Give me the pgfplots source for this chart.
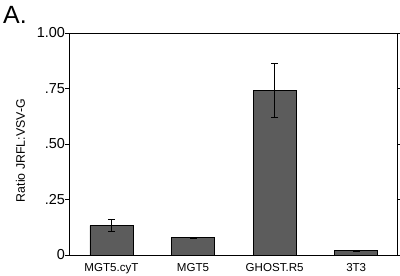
\documentclass[border=0pt]{standalone}
\usepackage{pgfplots}
\pgfplotsset{compat=1.18}
\usepackage{fontspec}
\setmainfont{Liberation Sans}
\definecolor{barfill}{RGB}{92,92,92}
\begin{document}
\begin{tikzpicture}
\useasboundingbox (-69bp,-21bp) rectangle (331bp,255bp);
\begin{axis}[
  at={(0,0)}, anchor=south west,
  scale only axis,
  width=328bp, height=222bp,
  xmin=-0.52, xmax=3.5,
  ymin=0, ymax=1,
  xtick={0,1,2,3},
  xticklabels={MGT5.cyT,MGT5,GHOST.R5,3T3},
  ytick={0,0.25,0.5,0.75,1},
  yticklabels={0,.25,.50,.75,1.00},
  major x tick style={draw=none},
  ytick align=outside,
  major tick length=4bp,
  tick style={black, line width=0.8pt},
  axis line style={line width=0.9pt},
  yticklabel style={font=\fontsize{14.5}{16}\selectfont, xshift=3.5bp},
  xticklabel style={font=\fontsize{11.6}{13}\selectfont, yshift=-0.5bp},
  ylabel={Ratio JRFL:VSV-G},
  ylabel style={font=\fontsize{12.4}{14}\selectfont, at={(ticklabel cs:0.47)}, yshift=5bp},
  ybar, bar width=43bp,
]
\addplot[fill=barfill, draw=black, line width=0.7pt,
  error bars/.cd, y dir=both, y explicit,
  error bar style={black, line width=0.9pt},
  error mark options={rotate=90, mark size=3.5bp, line width=0.9pt, black}]
coordinates {
  (0,0.132) +- (0,0.026)
  (1,0.078) +- (0,0.003)
  (2,0.740) +- (0,0.122)
  (3,0.019) +- (0,0.003)
};
\end{axis}
\node[font=\fontsize{25}{28}\selectfont] at (-54bp,240bp) {A.};
\end{tikzpicture}
\end{document}
